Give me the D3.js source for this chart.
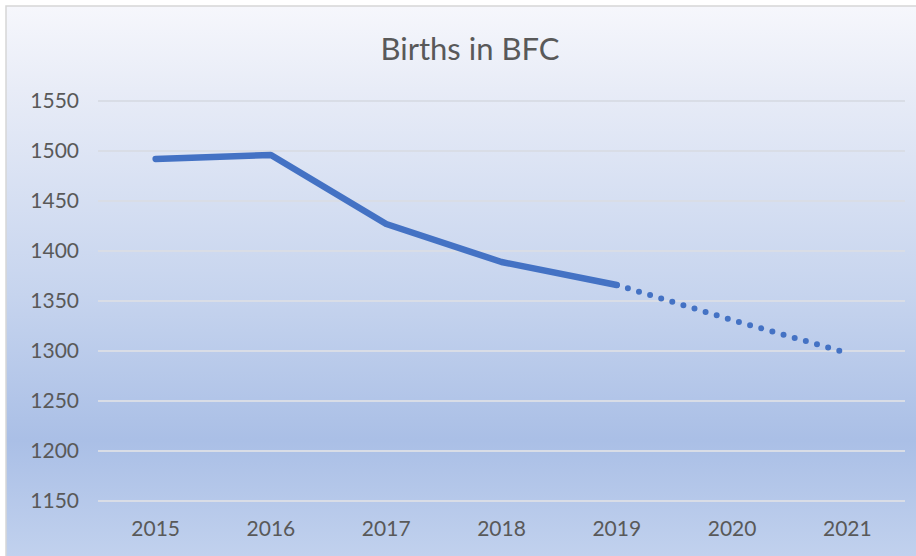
<!DOCTYPE html>
<html>
<head>
<meta charset="utf-8">
<script src="https://cdn.jsdelivr.net/npm/d3@7"></script>
<style>
  html, body { margin: 0; padding: 0; background: #ffffff; }
  svg { display: block; }
</style>
</head>
<body>
<svg id="chart" width="916" height="556"></svg>
<script>
const years = ["2015", "2016", "2017", "2018", "2019", "2020", "2021"];
const births = [1492, 1496, 1427, 1389, 1366, 1331, 1298];
const yTicks = [1150, 1200, 1250, 1300, 1350, 1400, 1450, 1500, 1550];
const solidEnd = "2019";
const title = "Births in BFC";

const W = 916, H = 556;
const svg = d3.select("#chart");
const margin = { left: 98, right: 11, top: 101, bottom: 55 };

const defs = svg.append("defs");
const grad = defs.append("linearGradient").attr("id", "bg")
  .attr("x1", 0).attr("y1", 0).attr("x2", 0).attr("y2", 1);
[["0%", "#f6f7fc"], ["15%", "#e8ecf7"], ["52%", "#c6d4ee"], ["78%", "#aabfe6"], ["100%", "#c2d2ee"]]
  .forEach(([o, c]) => grad.append("stop").attr("offset", o).attr("stop-color", c));

svg.append("rect").attr("x", 6).attr("y", 6).attr("width", W).attr("height", H)
  .attr("fill", "url(#bg)").attr("stroke", "#d6d6d6").attr("stroke-width", 1.5);

const x = d3.scaleBand().domain(years).range([margin.left, W - margin.right]);
const y = d3.scaleLinear().domain([1150, 1550]).range([H - margin.bottom, margin.top]);

// gridlines
svg.append("g").selectAll("line").data(yTicks).join("line")
  .attr("x1", margin.left).attr("x2", W - margin.right)
  .attr("y1", d => y(d)).attr("y2", d => y(d))
  .attr("stroke", "#d9dde6").attr("stroke-width", 2);

const font = "Lato, 'Open Sans', sans-serif";

// y axis
const yAxis = svg.append("g").attr("transform", `translate(${margin.left - 19},0)`)
  .call(d3.axisLeft(y).tickValues(yTicks).tickFormat(d3.format("d")).tickSize(0).tickPadding(0));
yAxis.select(".domain").remove();
yAxis.selectAll("text").attr("fill", "#595959").style("font-family", font).style("font-size", "21px");

// x axis
const xAxis = svg.append("g").attr("transform", `translate(0,${H - margin.bottom})`)
  .call(d3.axisBottom(x).tickSize(0).tickPadding(20));
xAxis.select(".domain").remove();
xAxis.selectAll("text").attr("fill", "#595959").style("font-family", font).style("font-size", "21px");

// title
svg.append("text").attr("x", 470).attr("y", 60)
  .attr("text-anchor", "middle").attr("fill", "#595959")
  .style("font-family", font).style("font-size", "31px").text(title);

const data = years.map((yr, i) => ({ yr, v: births[i] }));
const idx = years.indexOf(solidEnd);
const line = d3.line().x(d => x(d.yr) + x.bandwidth() / 2).y(d => y(d.v));

svg.append("path").datum(data.slice(0, idx + 1)).attr("d", line)
  .attr("fill", "none").attr("stroke", "#4472c4").attr("stroke-width", 6.5)
  .attr("stroke-linecap", "round").attr("stroke-linejoin", "round");

svg.append("path").datum(data.slice(idx)).attr("d", line)
  .attr("fill", "none").attr("stroke", "#4472c4").attr("stroke-width", 6)
  .attr("stroke-linecap", "round").attr("stroke-dasharray", "0 11.6")
  .attr("stroke-dashoffset", -11.6);
</script>
</body>
</html>
